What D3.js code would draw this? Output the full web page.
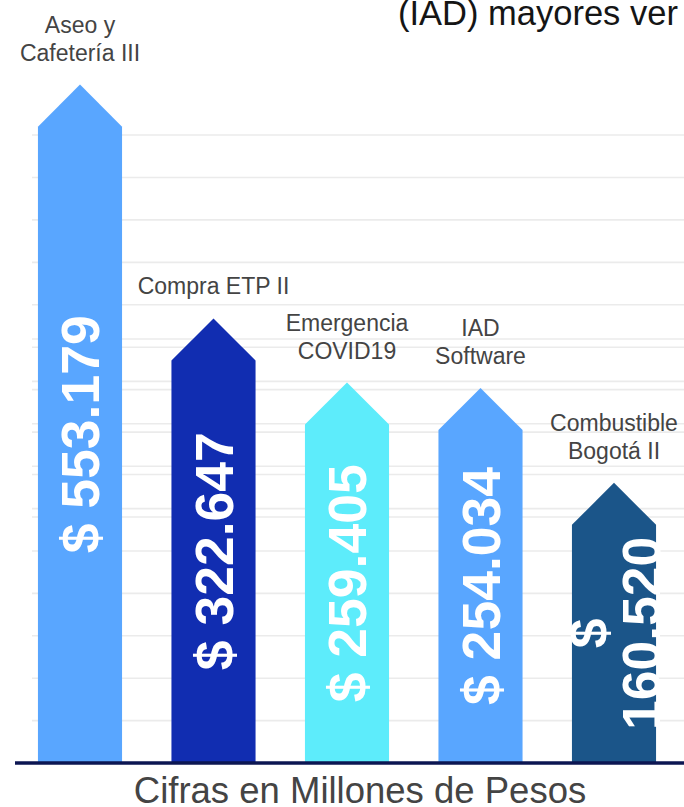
<!DOCTYPE html>
<html>
<head>
<meta charset="utf-8">
<script src="https://cdn.jsdelivr.net/npm/d3@7"></script>
<style>
  html, body { margin: 0; padding: 0; background: #ffffff; overflow: hidden; }
  svg { display: block; }
</style>
</head>
<body>
<script>
// Contract amounts (millions of pesos) shown as upward arrows
const categories = ["Aseo y Cafetería III", "Compra ETP II", "Emergencia COVID19", "IAD Software", "Combustible Bogotá II"];
const categoryLines = [["Aseo y", "Cafetería III"], ["Compra ETP II"], ["Emergencia", "COVID19"], ["IAD", "Software"], ["Combustible", "Bogotá II"]];
const values = [553179, 322647, 259405, 254034, 160520];
const barColors = ["#59a6ff", "#112db1", "#5decfb", "#59a6ff", "#1b5589"];
const titleText = "(IAD) mayores ver";
const axisTitle = "Cifras en Millones de Pesos";

const W = 684, H = 807;
const baseY = 763;

const svg = d3.select("body").append("svg").attr("width", W).attr("height", H);

const es = d3.formatLocale({ decimal: ",", thousands: ".", grouping: [3], currency: ["$ ", ""] });
const fmt = es.format("$,");

const x = d3.scaleBand().domain(categories).range([13.25, 680.75]).paddingInner(0.37).paddingOuter(0.185);
const y = d3.scaleLinear().domain([0, 600000]).range([645.6, 37.1]);

// Background grid: two ruled bands
const gridLower = d3.scaleLinear().domain([0, 10]).range([baseY, 339]);
const gridUpper = d3.scaleLinear().domain([0, 9]).range([517, 135]);
const grid = svg.append("g").attr("stroke", "#ebebeb").attr("stroke-width", 1.6);
grid.selectAll("line.lo").data(d3.range(1, 11)).join("line").attr("class", "lo")
  .attr("x1", 32).attr("x2", W).attr("y1", d => gridLower(d)).attr("y2", d => gridLower(d));
grid.selectAll("line.up").data(d3.range(0, 10)).join("line").attr("class", "up")
  .attr("x1", 32).attr("x2", W).attr("y1", d => gridUpper(d)).attr("y2", d => gridUpper(d));

// Title (runs off the right edge)
svg.append("text").attr("x", 398).attr("y", 25)
  .attr("font-family", "'Liberation Sans', Arial, sans-serif").attr("font-size", 34.5)
  .attr("fill", "#151515").text(titleText);

const data = categories.map((c, i) => ({ c, v: values[i], lines: categoryLines[i], color: barColors[i] }));

// Arrow shapes
const bw = x.bandwidth();
const head = bw / 2;
const arrows = svg.append("g");
arrows.selectAll("path").data(data).join("path")
  .attr("fill", d => d.color)
  .attr("d", d => {
    const x0 = x(d.c), x1 = x0 + bw, xm = x0 + bw / 2, tip = y(d.v);
    return `M${x0},${baseY}L${x0},${tip + head}L${xm},${tip}L${x1},${tip + head}L${x1},${baseY}Z`;
  });

// Value labels, rotated inside each arrow
const valFont = 53.5;
const vlab = svg.append("g").attr("font-family", "'Liberation Sans', Arial, sans-serif")
  .attr("font-weight", "bold").attr("font-size", valFont).attr("fill", "#ffffff").attr("text-anchor", "middle");
data.forEach(d => {
  const cx = x(d.c) + bw / 2;
  const tip = y(d.v);
  const cy = (tip + head / 2 + baseY) / 2;
  const t = vlab.append("text").attr("transform", `translate(${cx},${cy}) rotate(-90)`);
  const label = fmt(d.v);
  t.append("tspan").attr("x", 0).attr("dy", "0.36em").text(label);
  const len = t.node().getComputedTextLength();
  const body = baseY - (tip + head);
  if (len > body - 40) {
    t.selectAll("tspan").remove();
    const parts = label.split(" ");
    const lh = 1.0;
    parts.forEach((p, k) => {
      t.append("tspan").attr("x", 0)
        .attr("dy", k === 0 ? `${0.36 - lh * (parts.length - 1) / 2}em` : `${lh}em`)
        .text(p);
    });
  }
});

// Category names above the arrows
const clab = svg.append("g").attr("font-family", "'Liberation Sans', Arial, sans-serif")
  .attr("font-size", 23).attr("fill", "#444444").attr("text-anchor", "middle");
data.forEach(d => {
  const cx = x(d.c) + bw / 2;
  const lastBase = y(d.v) - 24;
  const n = d.lines.length;
  d.lines.forEach((ln, k) => {
    clab.append("text").attr("x", cx).attr("y", lastBase - (n - 1 - k) * 28).text(ln);
  });
});

// Baseline
svg.append("line").attr("x1", 15).attr("x2", W).attr("y1", baseY).attr("y2", baseY)
  .attr("stroke", "#0c1652").attr("stroke-width", 3.5);

// Axis title
svg.append("text").attr("x", 360).attr("y", 803).attr("text-anchor", "middle")
  .attr("font-family", "'Liberation Sans', Arial, sans-serif").attr("font-size", 36.5)
  .attr("fill", "#444444").text(axisTitle);
</script>
</body>
</html>
